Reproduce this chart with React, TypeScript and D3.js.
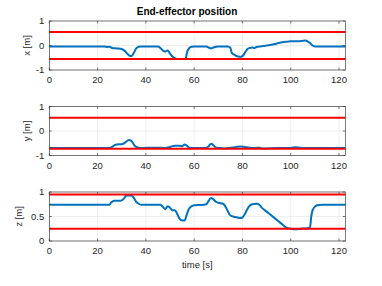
import React from "react";
import * as d3 from "d3";

// x position keyframes
const xTime = [0, 23, 24, 25, 26, 28, 30, 31, 32, 33, 34, 35, 36, 37, 38, 45, 46, 47, 48, 49, 50, 51, 52, 53, 56, 56.6, 57, 58, 59, 60, 65, 66, 67, 68, 69, 70, 74, 75, 75.6, 77, 79, 80, 81, 82, 83, 84, 85, 86, 88, 90, 93, 95, 98, 100, 103, 106, 107, 108, 109, 110, 122.6];
const xVal = [-0.04, -0.04, -0.06, -0.05, -0.1, -0.12, -0.14, -0.2, -0.3, -0.4, -0.43, -0.3, -0.12, -0.05, -0.04, -0.04, -0.1, -0.2, -0.25, -0.2, -0.33, -0.45, -0.52, -0.55, -0.55, -0.5, -0.3, -0.1, -0.05, -0.04, -0.04, -0.08, -0.12, -0.08, -0.05, -0.04, -0.04, -0.1, -0.3, -0.4, -0.46, -0.43, -0.3, -0.15, -0.1, -0.08, -0.1, -0.05, -0.03, 0.0, 0.05, 0.1, 0.15, 0.17, 0.17, 0.2, 0.17, 0.1, 0.0, -0.04, -0.04];

// y position keyframes
const yTime = [0, 25, 26, 27, 28, 30, 31, 33, 34, 35, 36, 38, 44, 48, 50, 52, 54, 55, 56, 57, 58, 60, 65, 66, 67, 68, 69, 70, 73, 75, 77, 79, 81, 83, 85, 87, 88, 95, 100, 102, 104, 106, 122.6];
const yVal = [-0.69, -0.69, -0.65, -0.58, -0.55, -0.54, -0.5, -0.37, -0.4, -0.55, -0.65, -0.69, -0.68, -0.69, -0.65, -0.6, -0.6, -0.62, -0.55, -0.6, -0.68, -0.69, -0.69, -0.62, -0.52, -0.58, -0.68, -0.69, -0.71, -0.68, -0.66, -0.63, -0.65, -0.68, -0.69, -0.68, -0.71, -0.69, -0.69, -0.66, -0.68, -0.69, -0.69];

// z position keyframes
const zTime = [0, 25, 25.5, 26, 27, 29, 30, 31, 32, 34, 35, 36, 37, 38, 46, 47, 48, 49, 50, 51, 52, 53, 54, 55, 56, 57, 58, 60, 64, 65, 66, 67, 68, 69, 70, 72, 73, 74, 75, 77, 79, 80, 81, 82, 83, 84, 86, 87, 88, 90, 92, 94, 96, 98, 100, 102, 104, 107, 108, 108.5, 109, 110, 111, 113, 122.6];
const zVal = [0.74, 0.74, 0.78, 0.8, 0.82, 0.82, 0.83, 0.87, 0.93, 0.93, 0.88, 0.8, 0.76, 0.74, 0.74, 0.7, 0.65, 0.71, 0.68, 0.63, 0.63, 0.55, 0.45, 0.42, 0.42, 0.55, 0.67, 0.73, 0.74, 0.75, 0.82, 0.88, 0.85, 0.8, 0.78, 0.76, 0.7, 0.6, 0.52, 0.49, 0.47, 0.48, 0.55, 0.65, 0.72, 0.75, 0.76, 0.74, 0.68, 0.6, 0.52, 0.44, 0.36, 0.28, 0.25, 0.24, 0.25, 0.26, 0.28, 0.5, 0.62, 0.7, 0.73, 0.74, 0.74];

// workspace limits (red lines)
const xLimits = [0.55, -0.55];
const yLimits = [0.54, -0.72];
const zLimits = [0.95, 0.25];

const timeTicks = [0, 20, 40, 60, 80, 100, 120];
const timeMax = 122.6;

const width = 382;
const height = 286;
const left = 49.3;
const right = 345.3;
const panelH = 49;
const tops = [21, 106.5, 192];
const blue = "#0072BD";
const red = "#FF0000";
const axisColor = "#262626";
const font = "'Liberation Sans', Arial, sans-serif";

const panels = [
  { t: xTime, v: xVal, lim: xLimits, domain: [-1, 1], ticks: [-1, 0, 1], label: "x [m]", labelX: 29.5 },
  { t: yTime, v: yVal, lim: yLimits, domain: [-1, 1], ticks: [-1, 0, 1], label: "y [m]", labelX: 29.5 },
  { t: zTime, v: zVal, lim: zLimits, domain: [0, 1], ticks: [0, 0.5, 1], label: "z [m]", labelX: 22 },
];

const xScale = d3.scaleLinear().domain([0, timeMax]).range([left, right]);

const Panel = ({ p, top }: { p: (typeof panels)[number]; top: number }) => {
  const y = d3.scaleLinear().domain(p.domain).range([top + panelH, top]);
  const line = d3
    .line<number>()
    .x((_, i) => xScale(p.t[i]))
    .y((d) => y(d))
    .curve(d3.curveMonotoneX);
  const bottom = top + panelH;
  return (
    <g>
      <rect x={left} y={top} width={right - left} height={panelH} fill="#fff" />
      {timeTicks.map((t) => (
        <line key={"gx" + t} x1={xScale(t)} x2={xScale(t)} y1={top} y2={bottom} stroke="#e3e3e3" strokeWidth={0.6} />
      ))}
      {p.ticks.map((t) => (
        <line key={"gy" + t} x1={left} x2={right} y1={y(t)} y2={y(t)} stroke="#e3e3e3" strokeWidth={0.6} />
      ))}
      <path d={line(p.v) || ""} fill="none" stroke={blue} strokeWidth={2} strokeLinejoin="round" />
      {p.lim.map((l, i) => (
        <line key={"l" + i} x1={left} x2={right} y1={y(l)} y2={y(l)} stroke={red} strokeWidth={2} />
      ))}
      <rect x={left} y={top} width={right - left} height={panelH} fill="none" stroke={axisColor} strokeWidth={0.6} />
      {timeTicks.map((t) => (
        <g key={"tx" + t}>
          <line x1={xScale(t)} x2={xScale(t)} y1={bottom} y2={bottom - 2.5} stroke={axisColor} strokeWidth={0.6} />
          <line x1={xScale(t)} x2={xScale(t)} y1={top} y2={top + 2.5} stroke={axisColor} strokeWidth={0.6} />
          <text x={xScale(t)} y={bottom + 13} textAnchor="middle" fontSize={9.5} fill={axisColor} fontFamily={font}>
            {t}
          </text>
        </g>
      ))}
      {p.ticks.map((t) => (
        <g key={"ty" + t}>
          <line x1={left} x2={left + 2.5} y1={y(t)} y2={y(t)} stroke={axisColor} strokeWidth={0.6} />
          <line x1={right} x2={right - 2.5} y1={y(t)} y2={y(t)} stroke={axisColor} strokeWidth={0.6} />
          <text x={left - 5} y={y(t) + 3.4} textAnchor="end" fontSize={9.5} fill={axisColor} fontFamily={font}>
            {t}
          </text>
        </g>
      ))}
      <text
        transform={`translate(${p.labelX},${top + panelH / 2}) rotate(-90)`}
        textAnchor="middle"
        fontSize={9.5}
        fill={axisColor}
        fontFamily={font}
      >
        {p.label}
      </text>
    </g>
  );
};

export default function App() {
  return (
    <svg
      width={width}
      height={height}
      viewBox={`0 0 ${width} ${height}`}
      style={{ position: "absolute", left: 0, top: 0, background: "#fff" }}
    >
      <rect width={width} height={height} fill="#fff" />
      <text x={187} y={15} textAnchor="middle" fontSize={10} fontWeight="bold" fill="#000" fontFamily={font}>
        End-effector position
      </text>
      {panels.map((p, i) => (
        <Panel key={i} p={p} top={tops[i]} />
      ))}
      <text x={(left + right) / 2} y={268} textAnchor="middle" fontSize={9.5} fill={axisColor} fontFamily={font}>
        time [s]
      </text>
    </svg>
  );
}
